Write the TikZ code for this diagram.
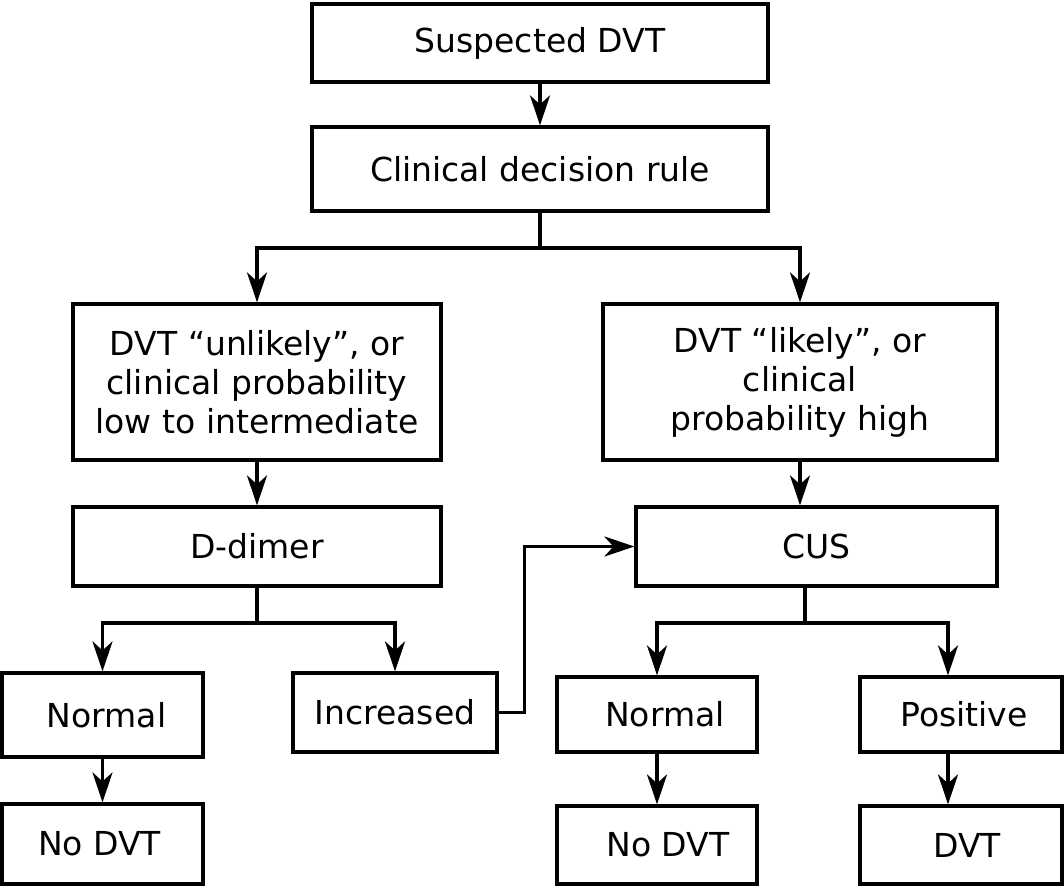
\documentclass[tikz,border=0pt]{standalone}
\usepackage{fontspec}
\setmainfont{DejaVu Sans}
\usetikzlibrary{arrows.meta}
\begin{document}
\begin{tikzpicture}[x=1pt,y=-1pt,
 box/.style={draw, line width=3.2pt, inner sep=0pt, align=center, font=\fontsize{33}{39}\selectfont},
 arr/.style={line width=3.2pt, -{Stealth[length=30pt,width=20pt,inset=9pt]}},
 ln/.style={line width=3.2pt}]
\useasboundingbox (0,0) rectangle (1064,888);
\node[box, minimum width=456pt, minimum height=78pt] (s) at (540,43) {Suspected DVT};
\node[box, minimum width=456pt, minimum height=84pt] (c) at (540,169) {Clinical decision rule};
\node[box, minimum width=368pt, minimum height=156pt] (u) at (257,382) {DVT “unlikely”, or\\clinical probability\\low to intermediate};
\node[box, minimum width=394pt, minimum height=156pt] (l) at (800,382) {DVT “likely”, or\\clinical\\probability high};
\node[box, minimum width=368pt, minimum height=79pt] (d) at (257,546.5) {D-dimer};
\node[box, minimum width=361pt, minimum height=79pt] (cus) at (816.5,546.5) {CUS};
\node[box, minimum width=201pt, minimum height=84pt] (n1) at (102.5,715) {\hspace{8pt}Normal};
\node[box, minimum width=204pt, minimum height=79pt] (inc) at (395,712.5) {Increased};
\node[box, minimum width=200pt, minimum height=75pt] (n2) at (657,714.5) {\hspace{16pt}Normal};
\node[box, minimum width=202pt, minimum height=75pt] (pos) at (961,714.5) {\hspace{6pt}Positive};
\node[box, minimum width=201pt, minimum height=80pt] (nd1) at (102.5,844) {No DVT\hspace{6pt}};
\node[box, minimum width=200pt, minimum height=78pt] (nd2) at (657,845) {\hspace{22pt}No DVT};
\node[box, minimum width=202pt, minimum height=78pt] (dvt) at (961,845) {\hspace{12pt}DVT};
\coordinate (j1) at (540,248);
\coordinate (j2) at (257,623);
\coordinate (j3) at (805,623);
\draw[arr] (s) -- (c);
\draw[ln] (c.south) -- (j1);
\draw[arr] (j1) -| (u.north);
\draw[arr] (j1) -| (l.north);
\draw[arr] (u) -- (d);
\draw[arr] (l.south) -- (l.south |- cus.north);
\draw[ln] (d.south) -- (j2);
\draw[arr] (j2) -| (n1.north);
\draw[arr] (j2) -| (inc.north);
\draw[arr] (inc.east) -- ++(26,0) |- (cus.west);
\draw[ln] (cus.south -| j3) -- (j3);
\draw[arr] (j3) -| (n2.north);
\draw[arr] (j3) -| ([xshift=-13pt]pos.north);
\draw[arr] (n1) -- (nd1);
\draw[arr] (n2) -- (nd2);
\draw[arr] ([xshift=-13pt]pos.south) -- ([xshift=-13pt]dvt.north);
\end{tikzpicture}
\end{document}
